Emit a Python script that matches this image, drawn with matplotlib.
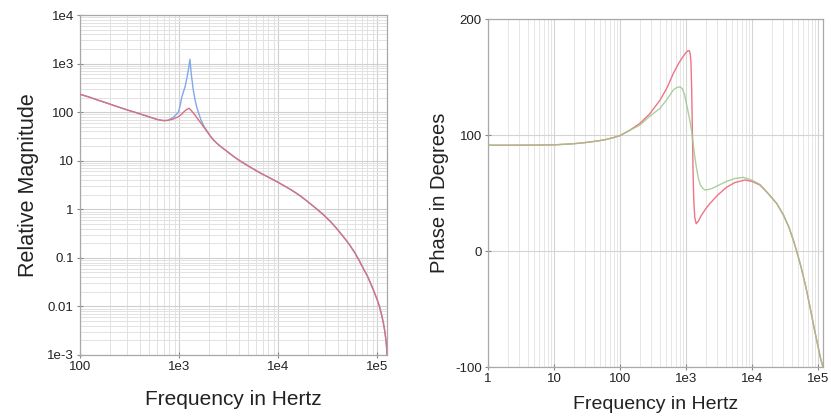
import matplotlib
matplotlib.use("Agg")
import matplotlib.pyplot as plt
from matplotlib.ticker import FixedLocator, LogLocator, NullFormatter
import numpy as np

plt.rcParams['font.family'] = ['Liberation Sans', 'DejaVu Sans']
plt.rcParams['axes.unicode_minus'] = False

# magnitude response, read as (frequency Hz, relative magnitude)
# both traces share the tail above ~2 kHz
tail_freq = [2050, 2200, 2400, 2600, 3000, 3600, 4200, 4800, 5600, 6600, 8300, 10000,
             11500, 13200, 15000, 16700, 19000, 21000, 24500, 29000, 33500, 38000,
             42300, 48000, 53300, 60000, 66000, 72800, 80000, 86000, 91600, 100000,
             106000, 111000, 116000, 120000, 123000, 125000, 126000]
tail_mag = [33, 27.5, 23, 20, 16, 12, 9.7, 8.2, 6.8, 5.6, 4.4, 3.6,
            3.05, 2.6, 2.2, 1.9, 1.55, 1.32, 1.02, 0.76, 0.57, 0.43,
            0.33, 0.24, 0.18, 0.125, 0.088, 0.06, 0.042, 0.030, 0.022, 0.014,
            0.0098, 0.0068, 0.0045, 0.003, 0.002, 0.0014, 0.001]

mag_freq_damped = [100, 125, 150, 190, 240, 300, 385, 480, 610, 700, 770, 870, 980,
                   1060, 1122, 1190, 1262, 1330, 1450, 1550, 1660, 1780, 1900] + tail_freq
mag_damped = [233, 203, 178, 152, 129, 111, 95, 82, 70, 67, 67.5, 72, 80,
              90, 102, 113, 120, 108, 87, 72, 60, 49, 41] + tail_mag

mag_freq_sharp = [100, 125, 150, 190, 240, 300, 385, 480, 610, 700, 770, 830, 900,
                  985, 1030, 1064, 1110, 1151, 1200, 1250, 1288, 1330, 1393, 1450,
                  1507, 1580, 1660, 1780, 1900] + tail_freq
mag_sharp = [233, 203, 178, 152, 129, 111, 95, 82, 70, 67, 68, 73, 82,
             100, 140, 200, 265, 334, 500, 800, 1225, 600, 286, 180,
             129, 95, 70, 52, 42] + tail_mag

# phase response, read as (frequency Hz, degrees)
ph_freq_red = [1, 2, 5, 10, 20, 30, 45, 60, 80, 100, 140, 200, 280, 404, 520, 642,
               780, 900, 1000, 1080, 1122, 1160, 1190, 1220, 1250, 1280, 1310, 1360,
               1430, 1550, 1700, 2000, 2311, 3000, 4130, 5500, 7830, 10000, 13200,
               17000, 23700, 30000, 36000, 42300, 47500, 55000, 65000, 75600, 88000,
               100000, 110000, 119000]
ph_red = [91.2, 91.2, 91.3, 91.5, 92.5, 93.5, 94.8, 96, 97.8, 99.5, 104, 110, 118, 130,
          141, 153, 162, 167.5, 171, 172.7, 172.7, 170, 163, 140, 105, 70, 45, 29,
          23.5, 26, 30.5, 36.5, 41, 48, 55, 59, 61.2, 60, 56.9,
          50.5, 41, 31, 21, 9.5, 0, -13, -30, -48, -67,
          -82, -93, -100]

ph_freq_green = [1, 2, 5, 10, 20, 30, 45, 60, 80, 100, 140, 200, 280, 404, 520, 642,
                 730, 811, 880, 950, 1000, 1070, 1150, 1230, 1300, 1380, 1450, 1550,
                 1650, 1800, 1941, 2200, 2500, 3200, 4130, 5500, 7390, 10000, 13200,
                 17000, 23700, 30000, 36000, 42300, 47500, 55000, 65000, 75600, 88000,
                 100000, 110000, 119000]
ph_green = [91.2, 91.2, 91.3, 91.5, 92.5, 93.5, 94.8, 96, 97.8, 99.5, 104, 108.5, 116, 123,
            131, 138.8, 141, 141.5, 140, 135, 129, 121, 112, 102, 90, 79, 71, 62,
            57, 54, 52.6, 53, 54, 57, 60, 62.5, 63.5, 61, 57.5,
            50.5, 41, 31, 21, 9.5, 0, -13, -30, -48, -67,
            -82, -93, -100]

mag_ticks = [1e-3, 1e-2, 1e-1, 1, 10, 100, 1e3, 1e4]
mag_tick_labels = ['1e-3', '0.01', '0.1', '1', '10', '100', '1e3', '1e4']
mag_xticks = [100, 1e3, 1e4, 1e5]
mag_xtick_labels = ['100', '1e3', '1e4', '1e5']
ph_xticks = [1, 10, 100, 1e3, 1e4, 1e5]
ph_xtick_labels = ['1', '10', '100', '1e3', '1e4', '1e5']
ph_ticks = [-100, 0, 100, 200]

fig = plt.figure(figsize=(8.31, 4.17), dpi=100)
ax1 = fig.add_axes([0.0963, 0.1487, 0.3694, 0.8153])
ax2 = fig.add_axes([0.5872, 0.1199, 0.4031, 0.8345])

spine_col = '#a8a8a8'
tick_col = '#222222'

def style_axes(ax):
    for s in ax.spines.values():
        s.set_color(spine_col)
        s.set_linewidth(0.9)
    ax.tick_params(which='major', direction='inout', length=5, width=0.8,
                   color='#888888', labelsize=9.5, labelcolor=tick_col, pad=2)
    ax.tick_params(which='minor', length=0)
    ax.set_axisbelow(True)

# magnitude plot
ax1.set_xscale('log')
ax1.set_yscale('log')
ax1.plot(mag_freq_sharp, mag_sharp, color='#80a8ec', lw=1.0, zorder=3)
ax1.plot(mag_freq_damped, mag_damped, color='#d9707e', lw=1.0, zorder=4)
ax1.set_xlim(100, 1.26e5)
ax1.set_ylim(1e-3, 1e4)
ax1.xaxis.set_major_locator(FixedLocator(mag_xticks))
ax1.set_xticklabels(mag_xtick_labels)
ax1.yaxis.set_major_locator(FixedLocator(mag_ticks))
ax1.set_yticklabels(mag_tick_labels)
ax1.xaxis.set_minor_locator(LogLocator(base=10, subs=np.arange(2, 10)))
ax1.yaxis.set_minor_locator(LogLocator(base=10, subs=np.arange(2, 10)))
ax1.xaxis.set_minor_formatter(NullFormatter())
ax1.yaxis.set_minor_formatter(NullFormatter())
ax1.grid(which='major', color='#cfcfcf', lw=0.8)
ax1.grid(which='minor', color='#e2e2e2', lw=0.7)
style_axes(ax1)
ax1.set_xlabel('Frequency in Hertz', fontsize=15, color='#222222', labelpad=12)
ax1.set_ylabel('Relative Magnitude', fontsize=15.5, color='#222222', labelpad=6)

# phase plot
ax2.set_xscale('log')
ax2.plot(ph_freq_red, ph_red, color='#f07484', lw=1.0, zorder=3)
ax2.plot(ph_freq_green, ph_green, color='#9cc88a', lw=1.0, alpha=0.85, zorder=4)
ax2.set_xlim(1, 1.19e5)
ax2.set_ylim(-100, 200)
ax2.xaxis.set_major_locator(FixedLocator(ph_xticks))
ax2.set_xticklabels(ph_xtick_labels)
ax2.yaxis.set_major_locator(FixedLocator(ph_ticks))
ax2.xaxis.set_minor_locator(LogLocator(base=10, subs=np.arange(2, 10)))
ax2.xaxis.set_minor_formatter(NullFormatter())
ax2.grid(which='major', color='#d4d4d4', lw=0.8)
ax2.grid(which='minor', axis='x', color='#e6e6e6', lw=0.7)
style_axes(ax2)
ax2.set_xlabel('Frequency in Hertz', fontsize=14, color='#222222', labelpad=8)
ax2.set_ylabel('Phase in Degrees', fontsize=14.5, color='#222222', labelpad=4)

fig.savefig('out.png', dpi=100)
